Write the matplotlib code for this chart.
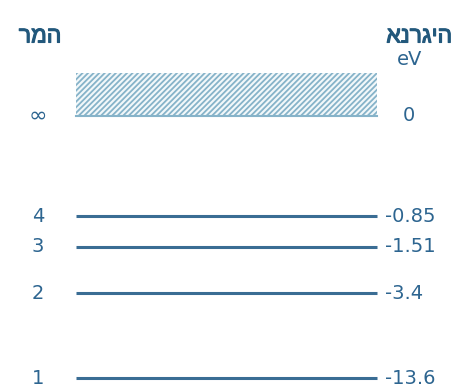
import numpy as np
import matplotlib
matplotlib.use('Agg')
import matplotlib.pyplot as plt
import matplotlib.patheffects as pe

plt.rcParams['font.family'] = ['Liberation Sans', 'DejaVu Sans']
plt.rcParams['hatch.linewidth'] = 1.3

# Hydrogen energy levels
levels = ['1', '2', '3', '4', '∞']
energies = [-13.6, -3.4, -1.51, -0.85, 0.0]
energy_labels = ['-13.6', '-3.4', '-1.51', '-0.85', '0']
title_level = 'רמה'
title_energy = 'אנרגיה'
unit = 'eV'

text_col = '#2d6590'
head_col = '#22587c'
line_col = '#3a6d94'
hatch_col = '#86b3c9'
num_font = 'DejaVu Sans'


def squash(e, a=0.22):
    # schematic (compressed) energy axis
    e = np.asarray(e, dtype=float)
    return np.sign(e) * np.log1p(np.abs(e) / a)


fig = plt.figure(figsize=(4.53, 3.87), dpi=100)
ax = fig.add_axes([0, 0, 1, 1])
k = 63.3
y0 = 116
ax.set_xlim(0, 453)
ax.set_ylim(-(387 - y0) / k, y0 / k)
ax.axis('off')

x0, x1 = 76, 377
fs = 14
ys = squash(energies)
for lev, e, lab, y in zip(levels, energies, energy_labels, ys):
    if e < 0:
        ax.plot([x0, x1], [y, y], color=line_col, lw=2.2, solid_capstyle='butt')
        ax.text(385, y, lab, color=text_col, fontsize=fs, family=num_font,
                ha='left', va='center')
    else:
        ax.text(409, y, lab, color=text_col, fontsize=fs, family=num_font,
                ha='center', va='center')
    ax.text(38, y, lev, color=text_col, fontsize=fs if lev != '∞' else 16,
            family=num_font, ha='center', va='center')

# continuum above ionisation level
ax.fill_between([x0, x1], ys[-1], ys[-1] + 43 / k, facecolor='#f2f8fa',
                edgecolor=hatch_col, hatch='//////', linewidth=0)
ax.plot([x0, x1], [ys[-1], ys[-1]], color=hatch_col, lw=1.5)

bold = [pe.withStroke(linewidth=0.8, foreground=head_col)]
ax.text(40, (y0 - 36) / k, title_level, color=head_col, fontsize=16.5,
        ha='center', va='center', path_effects=bold)
ax.text(452, (y0 - 36) / k, title_energy, color=head_col, fontsize=16.5,
        ha='right', va='center', path_effects=bold)
ax.text(410, (y0 - 60) / k, unit, color=text_col, fontsize=fs, family=num_font,
        ha='center', va='center')

fig.savefig('out.png', dpi=100, facecolor='white')
